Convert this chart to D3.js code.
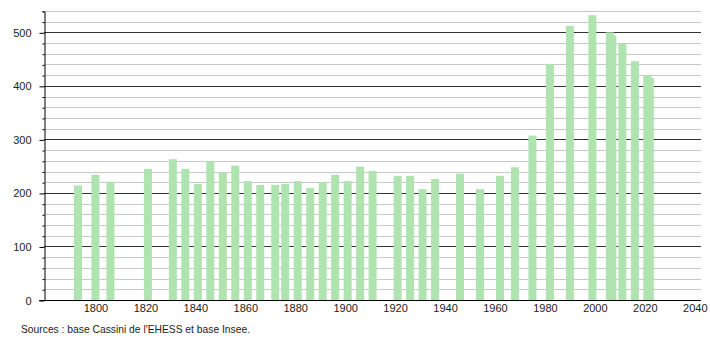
<!DOCTYPE html>
<html>
<head>
<meta charset="utf-8">
<script src="https://cdn.jsdelivr.net/npm/d3@7"></script>
<style>
    body { margin: 0; background: #fff; }
    text { font-family: "Liberation Sans", Arial, sans-serif; font-size: 11px; fill: #222; }
</style>
</head>
<body>
<div class="chart"></div>
<script>
// census years and population
const years = [1793, 1800, 1806, 1821, 1831, 1836, 1841, 1846, 1851, 1856,
               1861, 1866, 1872, 1876, 1881, 1886, 1891, 1896, 1901, 1906,
               1911, 1921, 1926, 1931, 1936, 1946, 1954, 1962, 1968, 1975,
               1982, 1990, 1999, 2006, 2007, 2011, 2016, 2021, 2022];
const population = [214, 234, 220, 245, 263, 245, 217, 259, 238, 251,
                    222, 215, 215, 217, 222, 209, 220, 234, 222, 249,
                    241, 232, 232, 207, 226, 236, 207, 232, 248, 307,
                    441, 512, 532, 500, 494, 479, 446, 420, 415];
const xTicks = [1800, 1820, 1840, 1860, 1880, 1900, 1920, 1940, 1960, 1980, 2000, 2020, 2040];
const yMajor = [0, 100, 200, 300, 400, 500];
const yMinor = d3.range(20, 541, 20).filter(v => v % 100 !== 0);
const source = "Sources : base Cassini de l'EHESS et base Insee.";

const width = 710, height = 340;
const left = 44, right = 701, bottom = 300;

let svg = d3.select('.chart')
            .append('svg')
            .attr('width', width)
            .attr('height', height);

let xScale = d3.scaleLinear()
        .domain([1779.4, 2042.5])
        .range([left, right]);

let yScale = d3.scaleLinear()
        .domain([0, 540])
        .range([bottom, 10.9]);

// grid lines
svg.append("g")
    .selectAll("line")
    .data(yMinor.concat([540]))
    .enter()
    .append("line")
    .attr("x1", left)
    .attr("x2", right)
    .attr("y1", d => Math.round(yScale(d)) + 0.5)
    .attr("y2", d => Math.round(yScale(d)) + 0.5)
    .attr("stroke", "#c8c8c8")
    .attr("stroke-width", 1);

svg.append("g")
    .selectAll("line")
    .data(yMajor.filter(d => d > 0))
    .enter()
    .append("line")
    .attr("x1", left)
    .attr("x2", right)
    .attr("y1", d => Math.round(yScale(d)) + 0.5)
    .attr("y2", d => Math.round(yScale(d)) + 0.5)
    .attr("stroke", "#333")
    .attr("stroke-width", 1);

// bars
const data = years.map((y, i) => ({year: y, count: population[i]}));
svg.selectAll(".bar")
    .data(data)
    .enter()
    .append("rect")
    .attr("class", "bar")
    .attr("x", d => xScale(d.year) - 4)
    .attr("width", 8)
    .attr("y", d => yScale(d.count))
    .attr("height", d => bottom - yScale(d.count))
    .attr("fill", "#afe3b0");

// y axis with major and minor ticks
svg.append("g")
    .attr("transform", "translate(" + (left + 0.5) + ",0.5)")
    .call(d3.axisLeft(yScale).tickValues(yMinor.concat([540])).tickSize(2).tickFormat(""))
    .call(g => g.select(".domain").remove())
    .selectAll("line").attr("stroke", "#000");

let yAxis = svg.append("g")
    .attr("transform", "translate(" + (left + 0.5) + ",0.5)")
    .call(d3.axisLeft(yScale).tickValues(yMajor).tickSize(5).tickPadding(8).tickSizeOuter(0));
yAxis.select(".domain").attr("stroke", "#000");
yAxis.selectAll("line").attr("stroke", "#000");
yAxis.selectAll("text").style("font-size", "11px").attr("fill", "#222");

// x axis, labels only
let xAxis = svg.append("g")
    .attr("transform", "translate(0," + (bottom + 0.5) + ")")
    .call(d3.axisBottom(xScale).tickValues(xTicks).tickSize(0).tickPadding(4).tickFormat(d3.format("d")));
xAxis.select(".domain").remove();
xAxis.selectAll("text").style("font-size", "11px").attr("fill", "#222");

svg.append("line")
    .attr("x1", left - 5)
    .attr("x2", right)
    .attr("y1", bottom + 0.5)
    .attr("y2", bottom + 0.5)
    .attr("stroke", "#000");

svg.append("text")
    .attr("x", 21)
    .attr("y", 333)
    .style("font-size", "10.5px")
    .attr("textLength", 229)
    .attr("lengthAdjust", "spacingAndGlyphs")
    .text(source);
</script>
</body>
</html>
